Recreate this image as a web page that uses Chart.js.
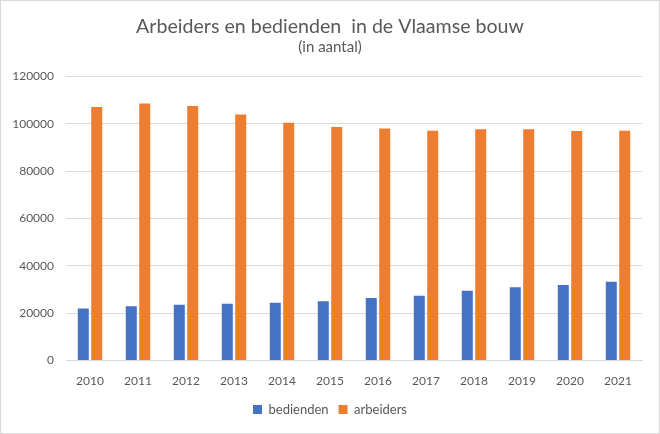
<!DOCTYPE html>
<html>
<head>
<meta charset="utf-8">
<script src="https://cdn.jsdelivr.net/npm/chart.js@4.4.0/dist/chart.umd.min.js"></script>
<style>
  html, body { margin: 0; padding: 0; background: #fff; }
  #wrap { width: 658px; height: 432px; border: 1px solid #d9d9d9; }
</style>
</head>
<body>
<div id="wrap"><canvas id="chart" width="658" height="432"></canvas></div>
<script>
// Gegevens
const jaren = ['2010', '2011', '2012', '2013', '2014', '2015', '2016', '2017', '2018', '2019', '2020', '2021'];
const bedienden = [22000, 23000, 23600, 24000, 24400, 25100, 26400, 27400, 29500, 31000, 31900, 33300];
const arbeiders = [107100, 108600, 107500, 104000, 100500, 98700, 98000, 97100, 97700, 97700, 97000, 97100];
const yTicks = [0, 20000, 40000, 60000, 80000, 100000, 120000];

const tekstKleur = '#595959';
const fontFam = 'Lato, "Open Sans", sans-serif';

const ctx = document.getElementById('chart').getContext('2d');

new Chart(ctx, {
    type: 'bar',
    data: {
        labels: jaren,
        datasets: [{
            label: 'bedienden',
            data: bedienden,
            backgroundColor: '#4472C4',
            categoryPercentage: 0.56,
            barPercentage: 0.82
        }, {
            label: 'arbeiders',
            data: arbeiders,
            backgroundColor: '#ED7D31',
            categoryPercentage: 0.56,
            barPercentage: 0.82
        }]
    },
    options: {
        responsive: false,
        animation: false,
        layout: {
            padding: { left: 11, right: 11, top: 4, bottom: 7 }
        },
        plugins: {
            title: {
                display: true,
                text: 'Arbeiders en bedienden  in de Vlaamse bouw',
                color: tekstKleur,
                font: { family: fontFam, size: 19.6, weight: 'normal' },
                padding: { top: 10, bottom: 0 }
            },
            subtitle: {
                display: true,
                text: '(in aantal)',
                color: tekstKleur,
                font: { family: fontFam, size: 15 },
                padding: { top: 0, bottom: 20 }
            },
            legend: {
                position: 'bottom',
                labels: {
                    color: tekstKleur,
                    font: { family: fontFam, size: 13 },
                    boxWidth: 9,
                    boxHeight: 9,
                    padding: 10
                }
            },
            tooltip: { enabled: false }
        },
        scales: {
            x: {
                grid: { display: false },
                border: { color: '#d9d9d9' },
                ticks: {
                    color: tekstKleur,
                    font: { family: fontFam, size: 12 },
                    padding: 5
                }
            },
            y: {
                min: yTicks[0],
                max: yTicks[yTicks.length - 1],
                afterBuildTicks: function (axis) {
                    axis.ticks = yTicks.map(v => ({ value: v }));
                },
                afterFit: function (axis) {
                    axis.width = 54;
                },
                ticks: {
                    color: tekstKleur,
                    font: { family: fontFam, size: 12 },
                    padding: 12,
                    callback: v => String(v)
                },
                grid: { color: '#d9d9d9', drawTicks: false },
                border: { display: false }
            },
            // lege as rechts, alleen voor wat ruimte naast het plotgebied
            rechts: {
                position: 'right',
                display: true,
                ticks: { display: false },
                grid: { display: false, drawTicks: false },
                border: { display: false },
                afterFit: function (axis) {
                    axis.width = 6;
                }
            }
        }
    }
});
</script>
</body>
</html>
